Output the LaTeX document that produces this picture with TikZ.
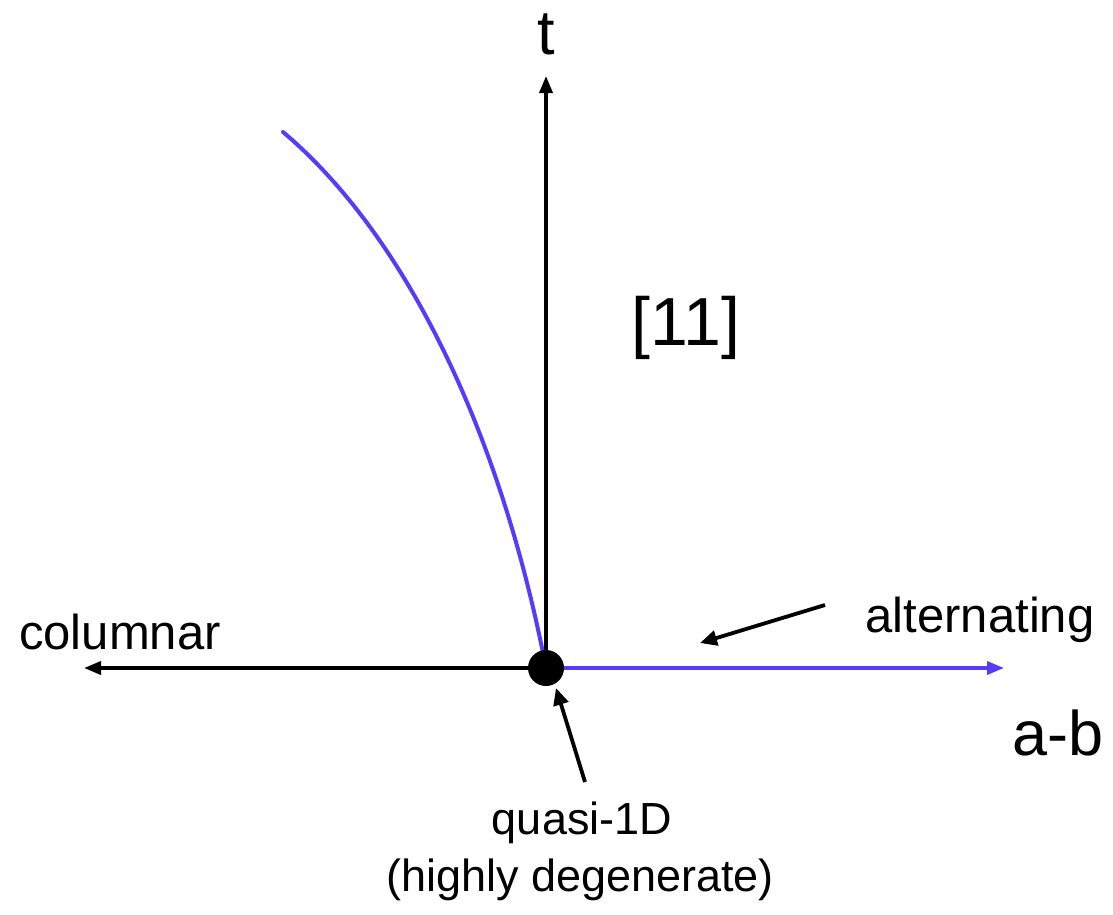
\documentclass[tikz,border=0pt]{standalone}
\usepackage{fontspec}
\setmainfont{Liberation Sans}
\usetikzlibrary{arrows.meta}
\definecolor{curveblue}{RGB}{85,60,250}
\begin{document}
\begin{tikzpicture}[x=1pt,y=-1pt,
  axis/.style={line width=3.6pt,-{Triangle[length=17pt,width=13pt]}},
  lbl/.style={inner sep=0pt,font=\fontsize{49}{56}\selectfont},
  smalllbl/.style={inner sep=0pt,font=\fontsize{45}{52}\selectfont},
  biglbl/.style={inner sep=0pt,font=\fontsize{63}{70}\selectfont},
  pointer/.style={line width=3.8pt,-{Triangle[length=17pt,width=15pt]}}]
\useasboundingbox (0,0) rectangle (1113,914);
\coordinate (O) at (546,668);
\coordinate (top) at (546,76);
\coordinate (left) at (84,668);
\coordinate (right) at (1004,668);
\coordinate (cend) at (283,132);
\draw[axis] (O) -- (top);
\draw[axis] (O) -- (left);
\draw[axis,curveblue] (O) -- (right);
\draw[curveblue,line width=4pt,line cap=round] (O) .. controls (500,430) and (405,235) .. (cend);
\fill (O) circle (18pt);
\node[biglbl] (t) at (546,34) {t};
\node[biglbl,font=\fontsize{68}{76}\selectfont] (eleven) at (686,328) {[11]};
\node[biglbl] (ab) at (1058,733) {a-b};
\node[lbl] (alt) at (980,620) {alternating};
\node[lbl] (col) at (120,632) {columnar};
\node[smalllbl] (q1d) at (582,823) {quasi-1D};
\node[smalllbl] (hd) at (580,880) {(highly degenerate)};
\coordinate (altTail) at (825,605);
\coordinate (altTip) at (700,643);
\coordinate (qTail) at (585,782);
\coordinate (qTip) at (556,688);
\draw[pointer] (altTail) -- (altTip);
\draw[pointer] (qTail) -- (qTip);
\end{tikzpicture}
\end{document}
